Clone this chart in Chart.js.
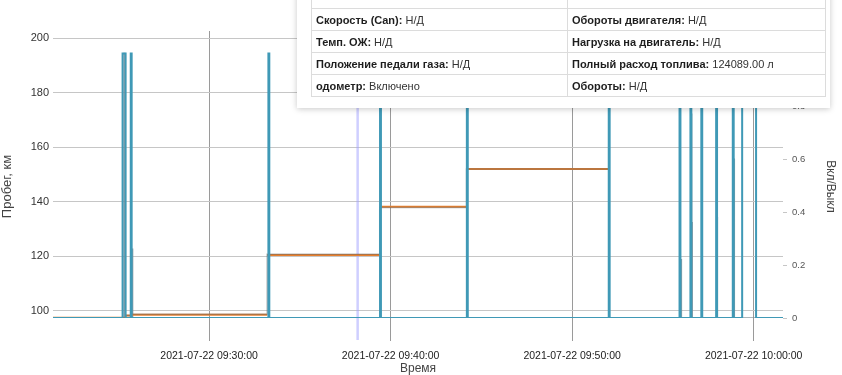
<!DOCTYPE html>
<html>
<head>
<meta charset="utf-8">
<script src="https://cdn.jsdelivr.net/npm/chart.js@4.4.0/dist/chart.umd.min.js"></script>
<style>
  html, body { margin: 0; padding: 0; background: #fff; overflow: hidden; }
  #wrap { position: relative; width: 842px; height: 375px; overflow: hidden; }
  #tip {
    position: absolute; left: 297px; top: -25px; width: 533px; box-sizing: border-box;
    padding: 10px 5px 11px 14px; background: #fff;
    box-shadow: 0 1px 6px rgba(0, 0, 0, 0.22);
  }
  #tip table { border-collapse: collapse; width: 514px; table-layout: fixed; }
  #tip td {
    border: 1px solid #dcdcdc; height: 21px; padding: 0 4px;
    font: 11px "Liberation Sans", Arial, sans-serif; color: #333;
    white-space: nowrap; overflow: hidden;
  }
  #tip tr.cut td { vertical-align: top; padding-top: 1px; }
  #tip td b { color: #1e1e1e; }
</style>
</head>
<body>
<div id="wrap">
  <canvas id="chart" width="842" height="375"></canvas>
  <div id="tip">
    <table>
      <colgroup><col style="width:256px"><col style="width:258px"></colgroup>
      <tr class="cut"><td><b>Дата:</b> 2021-07-22 09:38:11</td><td><b>Датчик уровня топлива:</b> Н/Д</td></tr>
      <tr><td><b>Скорость (Can):</b> Н/Д</td><td><b>Обороты двигателя:</b> Н/Д</td></tr>
      <tr><td><b>Темп. ОЖ:</b> Н/Д</td><td><b>Нагрузка на двигатель:</b> Н/Д</td></tr>
      <tr><td><b>Положение педали газа:</b> Н/Д</td><td><b>Полный расход топлива:</b> 124089.00 л</td></tr>
      <tr><td><b>одометр:</b> Включено</td><td><b>Обороты:</b> Н/Д</td></tr>
    </table>
  </div>
</div>
<script>
const BASE_DATE = "2021-07-22";

// x range and ticks (time of day)
const timeStart = "09:21:24";
const timeEnd = "10:01:37";
const timeTicks = ["09:30:00", "09:40:00", "09:50:00", "10:00:00"];
const cursorTime = "09:38:11";

// left axis: пробег
const leftTicks = [100, 120, 140, 160, 180, 200];
const mileTimes = ["09:21:24", "09:25:25", "09:25:42", "09:33:12", "09:39:24", "09:44:11", "09:52:01", "10:01:37"];
const mileValues = [97.4, 98.2, 98.5, 120.4, 138.2, 152.0, 186.0];
const mileGpsValues = [97.4, 98.2, 98.7, 120.7, 137.9, 152.0, 186.0];

// right axis: вкл/выкл
const rightTicks = [0, 0.2, 0.4, 0.6, 0.8, 1.0];
const onOffTimes = ["09:21:24", "09:25:14", "09:25:24", "09:25:41", "09:25:44", "09:33:16", "09:33:19",
  "09:39:25", "09:39:28", "09:44:12", "09:44:15", "09:52:01", "09:52:04", "09:55:55", "09:55:58",
  "09:56:31", "09:56:34", "09:57:07", "09:57:10", "09:57:56", "09:57:59", "09:58:51", "09:58:54",
  "09:59:22", "10:00:08", "10:01:37"];
const onOffValues = [0, 1, 0, 1, 0, 1, 0, 1, 0, 1, 0, 1, 0, 1, 0, 1, 0, 1, 0, 1, 0, 1, 0, 1, 0, 0];
const sensorTimes = ["09:21:24", "09:25:19", "09:25:21", "09:25:45", "09:25:47", "09:55:59", "09:56:01",
  "09:56:33", "09:56:35", "09:56:37", "09:57:58", "09:58:00", "09:58:54", "09:58:56", "10:01:37"];
const sensorValues = [0, 1, 0, 0.26, 0, 0.22, 0, 0.77, 0.36, 0, 0.38, 0, 0.6, 0, 0];

const toSec = (s) => {
  const p = s.split(":").map(Number);
  return p[0] * 3600 + p[1] * 60 + p[2];
};
const pad = (n) => String(n).padStart(2, "0");
const fmtTime = (v) => {
  const h = Math.floor(v / 3600), m = Math.floor((v % 3600) / 60), s = Math.round(v % 60);
  return pad(h) + ":" + pad(m) + ":" + pad(s);
};
const pts = (times, values) => times.map((t, i) => ({ x: toSec(t), y: values[i] }));

// stepped line, last value carried to the end
const stepPts = (times, values) => {
  const d = values.map((v, i) => ({ x: toSec(times[i]), y: v }));
  d.push({ x: toSec(times[times.length - 1]), y: values[values.length - 1] });
  return d;
};

// only the flat parts of the steps
const flatPts = (times, values) => {
  const d = [];
  values.forEach((v, i) => {
    d.push({ x: toSec(times[i]), y: v }, { x: toSec(times[i + 1]), y: v }, { x: toSec(times[i + 1]), y: null });
  });
  return d;
};

const SANS = "'Liberation Sans', Arial, sans-serif";

const cursorLine = {
  id: "cursorLine",
  beforeDatasetsDraw(chart) {
    const { ctx, chartArea } = chart;
    const x = chart.scales.x.getPixelForValue(toSec(cursorTime));
    ctx.save();
    ctx.strokeStyle = "rgba(160, 160, 255, 0.5)";
    ctx.lineWidth = 2.5;
    ctx.beginPath();
    ctx.moveTo(x, chartArea.top);
    ctx.lineTo(x, chartArea.bottom + 22);
    ctx.stroke();
    ctx.restore();
  }
};

// the side titles sit a bit lower than the middle of the chart area
const titleShift = {
  id: "titleShift",
  afterLayout(chart) {
    ["y", "y1"].forEach((id) => {
      const s = chart.scales[id];
      if (s._shifted) return;
      const orig = s.drawTitle;
      s.drawTitle = function () {
        this.ctx.save();
        this.ctx.translate(0, 12);
        orig.call(this);
        this.ctx.restore();
      };
      s._shifted = true;
    });
  }
};

new Chart(document.getElementById("chart"), {
  type: "line",
  data: {
    datasets: [
      {
        label: "Вкл/Выкл",
        data: pts(onOffTimes, onOffValues),
        yAxisID: "y1",
        stepped: true,
        borderColor: "#3f99b6",
        borderWidth: 2,
        pointRadius: 0,
      },
      {
        label: "Пробег GPS",
        data: stepPts(mileTimes.slice(0, -1), mileGpsValues),
        yAxisID: "y",
        stepped: true,
        borderColor: "rgba(100, 100, 100, 0.45)",
        borderWidth: 1.5,
        pointRadius: 0,
      },
      {
        label: "Пробег",
        data: flatPts(mileTimes, mileValues),
        yAxisID: "y",
        spanGaps: false,
        borderColor: "#e8802e",
        borderWidth: 2,
        pointRadius: 0,
      },
      {
        label: "Датчик",
        data: pts(sensorTimes, sensorValues),
        yAxisID: "y1",
        stepped: true,
        borderColor: "rgba(125, 140, 148, 0.85)",
        borderWidth: 1.5,
        pointRadius: 0,
      },
    ],
  },
  options: {
    responsive: false,
    animation: false,
    events: [],
    layout: { padding: { top: 31, left: 0, right: 0, bottom: 0 } },
    plugins: { legend: { display: false }, tooltip: { enabled: false } },
    scales: {
      x: {
        type: "linear",
        min: toSec(timeStart),
        max: toSec(timeEnd),
        afterBuildTicks: (s) => { s.ticks = timeTicks.map((t) => ({ value: toSec(t) })); },
        afterFit: (s) => { s.height = 57; },
        border: { display: false },
        grid: { color: "#9a9a9a", tickColor: "#9a9a9a", tickLength: 23 },
        ticks: {
          autoSkip: false,
          maxRotation: 0,
          padding: 9,
          color: "#222",
          font: { family: SANS, size: 10.5 },
          callback: (v) => BASE_DATE + " " + fmtTime(v),
        },
        title: {
          display: true,
          text: "Время",
          color: "#444",
          padding: 0,
          font: { family: SANS, size: 12, lineHeight: 1 },
        },
      },
      y: {
        type: "linear",
        position: "left",
        min: 97.3,
        max: 202.7,
        afterBuildTicks: (s) => { s.ticks = leftTicks.map((v) => ({ value: v })); },
        afterFit: (s) => { s.width = 53; },
        border: { display: false },
        grid: { color: "#c6c6c6", drawTicks: false },
        ticks: { padding: 4, color: "#333", font: { family: SANS, size: 11 } },
        title: {
          display: true,
          text: "Пробег, км",
          color: "#444",
          padding: 0,
          font: { family: SANS, size: 13 },
        },
      },
      y1: {
        type: "linear",
        position: "right",
        min: 0,
        max: 1.085,
        afterBuildTicks: (s) => { s.ticks = rightTicks.map((v) => ({ value: v })); },
        afterFit: (s) => { s.width = 59; },
        border: { display: false },
        grid: { drawOnChartArea: false, tickLength: 4, tickColor: "#c6c6c6" },
        ticks: {
          padding: 5,
          color: "#555",
          font: { family: SANS, size: 9.5 },
          callback: (v) => (v === 0 ? "0" : v.toFixed(1)),
        },
        title: {
          display: true,
          text: "Вкл/Выкл",
          color: "#444",
          padding: { top: 4, bottom: 0 },
          font: { family: SANS, size: 12 },
        },
      },
    },
  },
  plugins: [cursorLine, titleShift],
});
</script>
</body>
</html>
